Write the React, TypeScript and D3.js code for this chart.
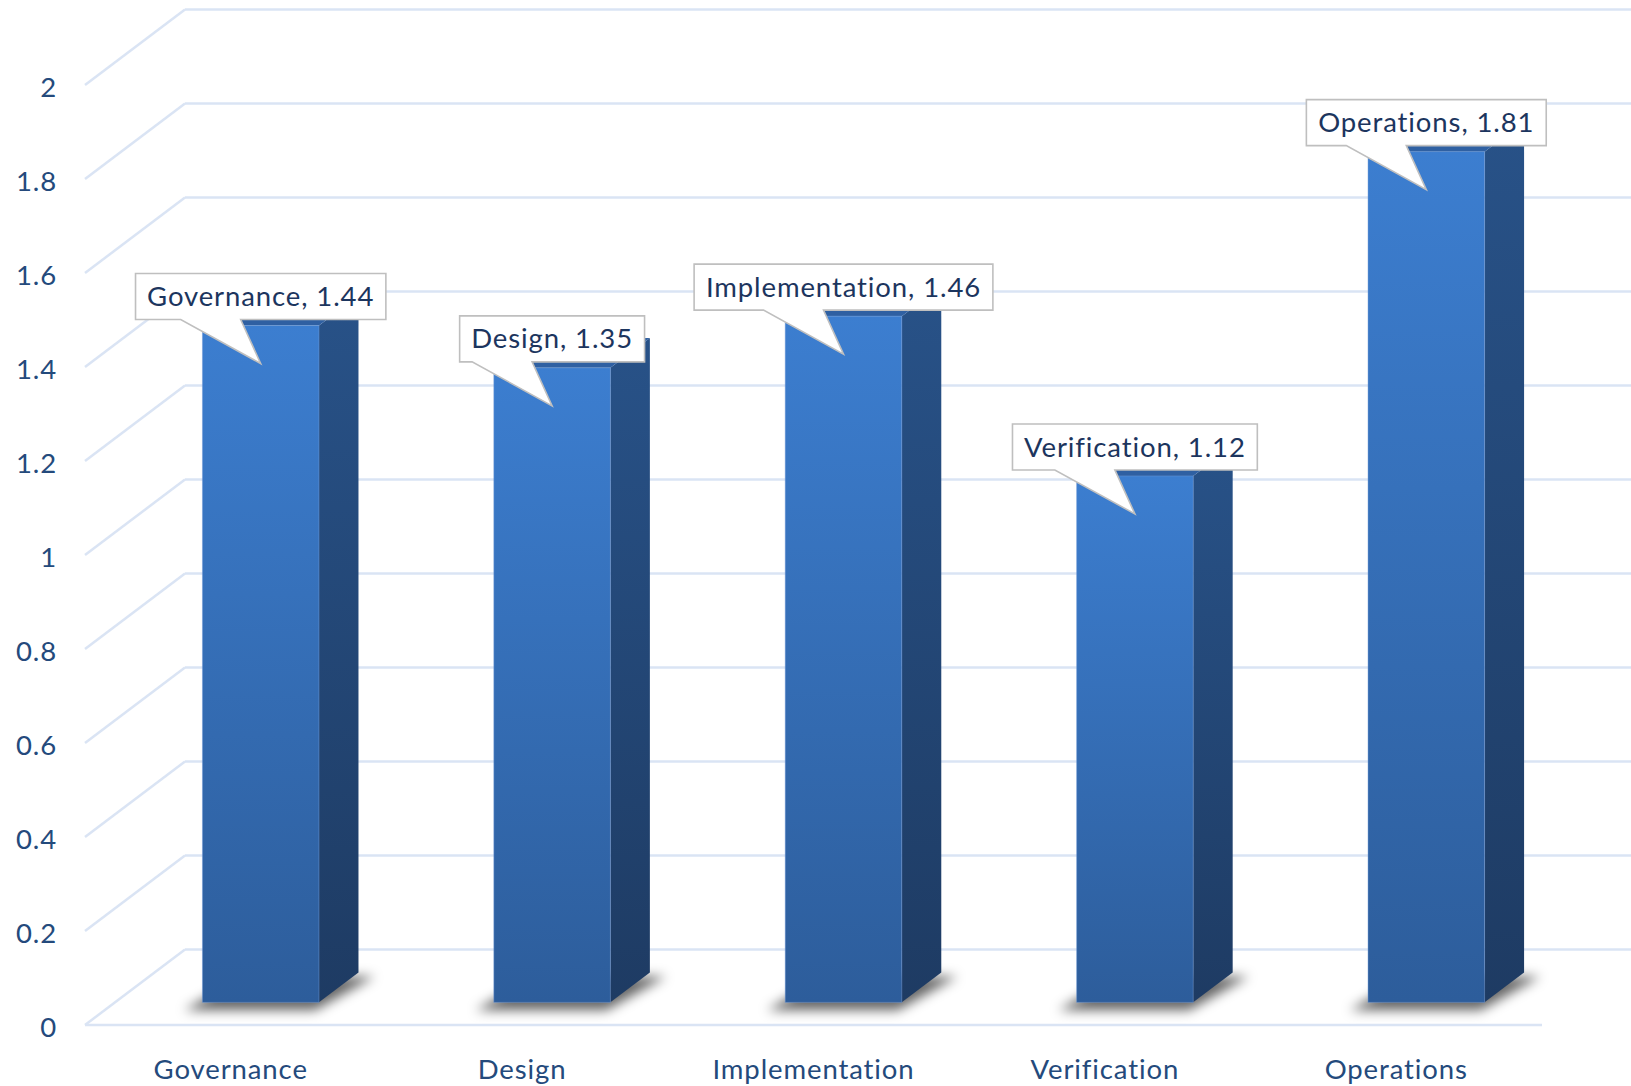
import React, { useMemo } from "react";
import * as d3 from "d3";

// Maturity score by practice area
const categories = ["Governance", "Design", "Implementation", "Verification", "Operations"];
const scores = [1.44, 1.35, 1.46, 1.12, 1.81];
const yTicks = [0, 0.2, 0.4, 0.6, 0.8, 1, 1.2, 1.4, 1.6, 1.8, 2];

const W = 1631;
const H = 1086;

// Front plane of the 3-D plot and its depth vector
const FRONT_LEFT = 85;
const FRONT_RIGHT = 1542;
const FLOOR_Y = 1025;
const TOP_Y = 85;
const DEPTH_DX = 100;
const DEPTH_DY = -75.5;
const BAR_D0 = 0.3;
const BAR_D1 = 0.695;

const FONT = "Lato, 'Open Sans', sans-serif";
const FONT_SIZE = 27.5;
const LETTER_SPACING = 0.9;
const AXIS_COLOR = "#244a7c";
const LABEL_COLOR = "#1c355e";
const GRID_COLOR = "#dae4f4";

function measure(text: string, size: number): number {
  const c = document.createElement("canvas").getContext("2d");
  if (!c) return text.length * size * 0.5;
  c.font = `${size}px Lato`;
  return c.measureText(text).width + LETTER_SPACING * (text.length - 1);
}

export default function App() {
  const x = useMemo(
    () => d3.scaleBand<string>().domain(categories).range([FRONT_LEFT, FRONT_RIGHT]).paddingInner(0).paddingOuter(0),
    []
  );
  const y = useMemo(() => d3.scaleLinear().domain([0, 2]).range([FLOOR_Y, TOP_Y]), []);

  const band = x.bandwidth();
  const barW = band / 2.5;
  const ox0 = BAR_D0 * DEPTH_DX;
  const oy0 = BAR_D0 * DEPTH_DY;
  const ddx = (BAR_D1 - BAR_D0) * DEPTH_DX;
  const ddy = (BAR_D1 - BAR_D0) * DEPTH_DY;

  const fmtTick = (v: number) => String(+v.toFixed(1));

  const bars = categories.map((cat, i) => {
    const v = scores[i];
    const fx0 = (x(cat) as number) + (band - barW) / 2 + ox0;
    const fx1 = fx0 + barW;
    const top = y(v) + oy0;
    const bottom = y(0) + oy0;
    return { cat, v, fx0, fx1, top, bottom };
  });

  const poly = (pts: [number, number][]) => "M" + pts.map((p) => p.join(",")).join("L") + "Z";

  return (
    <svg
      width={W}
      height={H}
      viewBox={`0 0 ${W} ${H}`}
      style={{ position: "absolute", left: 0, top: 0, background: "#fff" }}
    >
      <defs>
        <linearGradient id="frontGrad" x1="0" y1="0" x2="0" y2="1">
          <stop offset="0" stopColor="#3c7ed0" />
          <stop offset="1" stopColor="#2d5d9b" />
        </linearGradient>
        <linearGradient id="sideGrad" x1="0" y1="0" x2="0" y2="1">
          <stop offset="0" stopColor="#285288" />
          <stop offset="1" stopColor="#1e3b63" />
        </linearGradient>
        <filter id="shadowBlur" x="-50%" y="-50%" width="200%" height="200%">
          <feGaussianBlur stdDeviation="6" />
        </filter>
      </defs>

      {/* gridlines: left wall diagonals and back wall */}
      <g stroke={GRID_COLOR} strokeWidth={2.5} fill="none">
        {yTicks.map((t) => {
          const yf = y(t);
          return (
            <g key={t}>
              <line x1={FRONT_LEFT} y1={yf} x2={FRONT_LEFT + DEPTH_DX} y2={yf + DEPTH_DY} />
              <line x1={FRONT_LEFT + DEPTH_DX} y1={yf + DEPTH_DY} x2={W} y2={yf + DEPTH_DY} />
            </g>
          );
        })}
        <line x1={FRONT_LEFT} y1={y(0)} x2={FRONT_RIGHT} y2={y(0)} />
      </g>

      {/* y tick labels */}
      <g fontFamily={FONT} fontSize={FONT_SIZE} fill={AXIS_COLOR} textAnchor="end" letterSpacing={LETTER_SPACING}>
        {yTicks.map((t) => (
          <text key={t} x={57} y={y(t) + 2} dy="0.35em">
            {fmtTick(t)}
          </text>
        ))}
      </g>

      {/* bar shadows */}
      <g filter="url(#shadowBlur)">
        {bars.map((b) => (
          <path
            key={b.cat}
            d={poly([
              [b.fx0 - 18, b.bottom + 8],
              [b.fx1 - 4, b.bottom + 8],
              [b.fx1 + ddx + 16, b.bottom + ddy + 4],
              [b.fx0 + ddx, b.bottom + ddy + 4],
            ])}
            fill="#000"
            opacity={0.6}
          />
        ))}
      </g>

      {/* bars */}
      {bars.map((b) => (
        <g key={b.cat}>
          <path
            d={poly([
              [b.fx1, b.top],
              [b.fx1 + ddx, b.top + ddy],
              [b.fx1 + ddx, b.bottom + ddy],
              [b.fx1, b.bottom],
            ])}
            fill="url(#sideGrad)"
          />
          <path
            d={poly([
              [b.fx0, b.top],
              [b.fx1, b.top],
              [b.fx1 + ddx, b.top + ddy],
              [b.fx0 + ddx, b.top + ddy],
            ])}
            fill="#2f60a2"
          />
          <rect
            x={b.fx0}
            y={b.top}
            width={barW}
            height={b.bottom - b.top}
            fill="url(#frontGrad)"
            stroke="#6f9ad6"
            strokeOpacity={0.45}
            strokeWidth={1}
          />
        </g>
      ))}

      {/* callout data labels */}
      {bars.map((b) => {
        const text = `${b.cat}, ${b.v.toFixed(2)}`;
        const tw = measure(text, FONT_SIZE);
        const tx = (b.fx0 + b.fx1) / 2;
        const ty = b.top + 38;
        const rh = 46;
        const rw = tw + 24;
        const rb = b.top - 6;
        const rt = rb - rh;
        const rl = tx - rw / 2;
        const rr = tx + rw / 2;
        const d = poly([
          [rl, rt],
          [rr, rt],
          [rr, rb],
          [tx - 20, rb],
          [tx, ty],
          [tx - 80, rb],
          [rl, rb],
        ]);
        return (
          <g key={b.cat}>
            <path d={d} fill="#fff" stroke="#bfbfbf" strokeWidth={1.6} strokeLinejoin="miter" />
            <text
              x={tx}
              y={rt + rh / 2}
              dy="0.35em"
              textAnchor="middle"
              fontFamily={FONT}
              fontSize={FONT_SIZE}
              letterSpacing={LETTER_SPACING}
              fill={LABEL_COLOR}
            >
              {text}
            </text>
          </g>
        );
      })}

      {/* category labels */}
      <g fontFamily={FONT} fontSize={FONT_SIZE} fill={AXIS_COLOR} textAnchor="middle" letterSpacing={LETTER_SPACING}>
        {categories.map((c) => (
          <text key={c} x={(x(c) as number) + band / 2} y={1069} dy="0.35em">
            {c}
          </text>
        ))}
      </g>
    </svg>
  );
}
